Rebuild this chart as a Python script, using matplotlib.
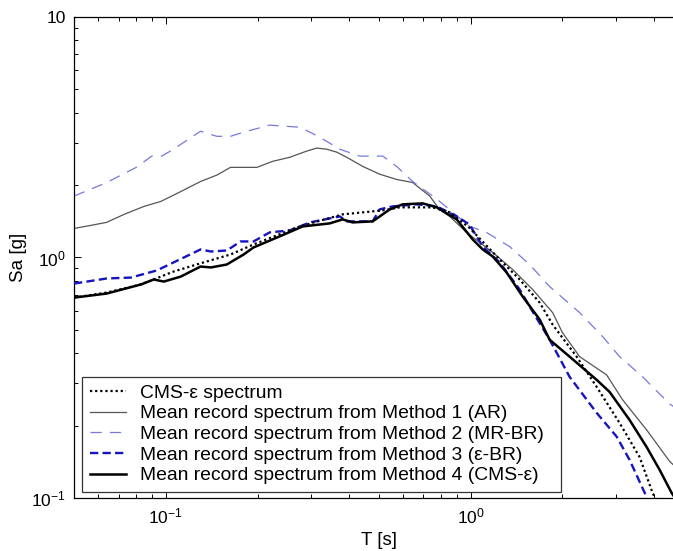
import matplotlib as mpl

mpl.use("Agg")

import matplotlib.pyplot as plt
from matplotlib.ticker import FixedLocator, LogLocator, NullFormatter

mpl.rcParams.update(
    {
        "font.family": ["Liberation Sans", "DejaVu Sans"],
        "mathtext.default": "regular",
        "font.size": 12,
        "xtick.direction": "in",
        "ytick.direction": "in",
    }
)

# period grids and spectral accelerations
T_CMS = [0.05, 0.064, 0.0828, 0.106, 0.136, 0.163, 0.194, 0.275, 0.38, 0.515, 0.585, 0.75,
         0.854, 0.99, 1.245, 1.448, 1.684, 1.857, 2.226, 2.589, 3.08, 3.582, 3.951, 4.2]
SA_CMS = [0.681, 0.715, 0.772, 0.874, 0.962, 1.029, 1.133, 1.346, 1.511, 1.57, 1.616, 1.616,
          1.54, 1.33, 0.981, 0.81, 0.649, 0.526, 0.387, 0.29, 0.205, 0.148, 0.105, 0.09]

T_AR = [0.05, 0.0568, 0.064, 0.0729, 0.0847, 0.0963, 0.112, 0.13, 0.147, 0.163, 0.199, 0.224,
        0.255, 0.29, 0.313, 0.337, 0.364, 0.392, 0.443, 0.503, 0.572, 0.645, 0.734, 0.79,
        0.854, 0.97, 1.181, 1.373, 1.597, 1.857, 2.0, 2.277, 2.792, 3.15, 3.776, 4.494, 5.0]
SA_AR = [1.32, 1.36, 1.40, 1.51, 1.63, 1.71, 1.88, 2.07, 2.20, 2.37, 2.37, 2.51,
         2.61, 2.77, 2.85, 2.82, 2.74, 2.61, 2.39, 2.22, 2.11, 2.05, 1.80, 1.585,
         1.48, 1.27, 1.05, 0.891, 0.736, 0.59, 0.487, 0.387, 0.325, 0.256, 0.192, 0.142, 0.125]

T_MRBR = [0.05, 0.064, 0.08, 0.09, 0.097, 0.106, 0.13, 0.147, 0.163, 0.18, 0.219, 0.275,
          0.297, 0.32, 0.372, 0.433, 0.515, 0.572, 0.645, 0.774, 0.99, 1.128, 1.342, 1.56,
          1.816, 2.277, 2.709, 3.08, 3.664, 4.494, 5.0]
SA_MRBR = [1.80, 2.05, 2.37, 2.64, 2.64, 2.82, 3.35, 3.19, 3.19, 3.32, 3.55, 3.48,
           3.32, 3.16, 2.82, 2.64, 2.64, 2.39, 2.07, 1.75, 1.35, 1.27, 1.11, 0.935,
           0.757, 0.59, 0.469, 0.387, 0.319, 0.246, 0.225]

T_EBR = [0.05, 0.064, 0.0768, 0.0934, 0.1146, 0.13, 0.1405, 0.1585, 0.176, 0.194, 0.219, 0.255,
         0.297, 0.372, 0.392, 0.477, 0.503, 0.555, 0.665, 0.774, 0.90, 0.99, 1.095, 1.245,
         1.448, 1.561, 1.816, 2.111, 2.589, 3.011, 3.321, 3.776, 3.9]
SA_EBR = [0.779, 0.818, 0.825, 0.883, 1.0, 1.08, 1.059, 1.069, 1.166, 1.166, 1.271, 1.296,
          1.399, 1.482, 1.413, 1.413, 1.585, 1.631, 1.663, 1.631, 1.482, 1.373, 1.111, 0.953,
          0.736, 0.625, 0.455, 0.319, 0.226, 0.18, 0.144, 0.101, 0.09]

T_CMSE = [0.05, 0.064, 0.0828, 0.0913, 0.0985, 0.112, 0.13, 0.1405, 0.1585, 0.18, 0.194, 0.236,
          0.281, 0.345, 0.38, 0.41, 0.477, 0.543, 0.598, 0.696, 0.774, 0.90, 1.015, 1.095,
          1.181, 1.312, 1.481, 1.684, 1.816, 2.111, 2.589, 2.856, 3.321, 3.776, 4.166, 4.562, 5.0]
SA_CMSE = [0.681, 0.708, 0.772, 0.81, 0.794, 0.833, 0.917, 0.909, 0.935, 1.029, 1.101, 1.223,
           1.346, 1.386, 1.44, 1.399, 1.413, 1.585, 1.663, 1.679, 1.616, 1.44, 1.189, 1.08,
           1.01, 0.866, 0.688, 0.552, 0.455, 0.387, 0.31, 0.276, 0.211, 0.163, 0.131, 0.105, 0.088]

LABELS = [
    "CMS-\u03b5 spectrum",
    "Mean record spectrum from Method 1 (AR)",
    "Mean record spectrum from Method 2 (MR-BR)",
    "Mean record spectrum from Method 3 (\u03b5-BR)",
    "Mean record spectrum from Method 4 (CMS-\u03b5)",
]


def main():
    fig = plt.figure(figsize=(6.73, 5.51), dpi=100)
    ax = fig.add_axes([0.110, 0.0962, 0.906, 0.873])

    ax.plot(T_CMS, SA_CMS, color="black", lw=1.6, ls=(0, (1, 1.3)), label=LABELS[0], zorder=4)
    ax.plot(T_AR, SA_AR, color="#555555", lw=0.9, label=LABELS[1], zorder=2)
    ax.plot(T_MRBR, SA_MRBR, color="#7878e0", lw=0.9, ls=(0, (9, 6.5)), label=LABELS[2], zorder=2)
    ax.plot(T_EBR, SA_EBR, color="#1414c0", lw=1.7, ls=(0, (3.5, 1.8)), label=LABELS[3], zorder=3)
    ax.plot(T_CMSE, SA_CMSE, color="black", lw=1.8, label=LABELS[4], zorder=3)

    ax.set_xscale("log")
    ax.set_yscale("log")
    ax.set_xlim(0.05, 5)
    ax.set_ylim(0.1, 10)

    ax.xaxis.set_major_locator(FixedLocator([0.1, 1]))
    ax.set_xticklabels([r"$10^{-1}$", r"$10^{0}$"])
    ax.yaxis.set_major_locator(FixedLocator([0.1, 1, 10]))
    ax.set_yticklabels([r"$10^{-1}$", r"$10^{0}$", "10"])
    for axis in (ax.xaxis, ax.yaxis):
        axis.set_minor_locator(LogLocator(base=10, subs=range(2, 10)))
        axis.set_minor_formatter(NullFormatter())
    ax.tick_params(which="both", top=True, right=True, labelsize=12.5, width=0.7, pad=6)
    ax.tick_params(which="major", length=5)
    ax.tick_params(which="minor", length=3)
    for sp in ax.spines.values():
        sp.set_linewidth(0.9)

    ax.set_xlabel("T [s]", fontsize=13.5, labelpad=4)
    ax.set_ylabel("Sa [g]", fontsize=13.5, labelpad=3)

    leg = ax.legend(
        loc="lower left",
        bbox_to_anchor=(0.013, 0.0125, 0.785, 0.0),
        mode="expand",
        borderaxespad=0,
        fontsize=13.9,
        handlelength=1.9,
        handletextpad=0.7,
        labelspacing=0.16,
        borderpad=0.4,
        fancybox=False,
        framealpha=1,
        edgecolor="#333333",
    )
    leg.get_frame().set_linewidth(0.9)

    fig.savefig("out.png", dpi=100)
    plt.close(fig)


if __name__ == "__main__":
    main()
